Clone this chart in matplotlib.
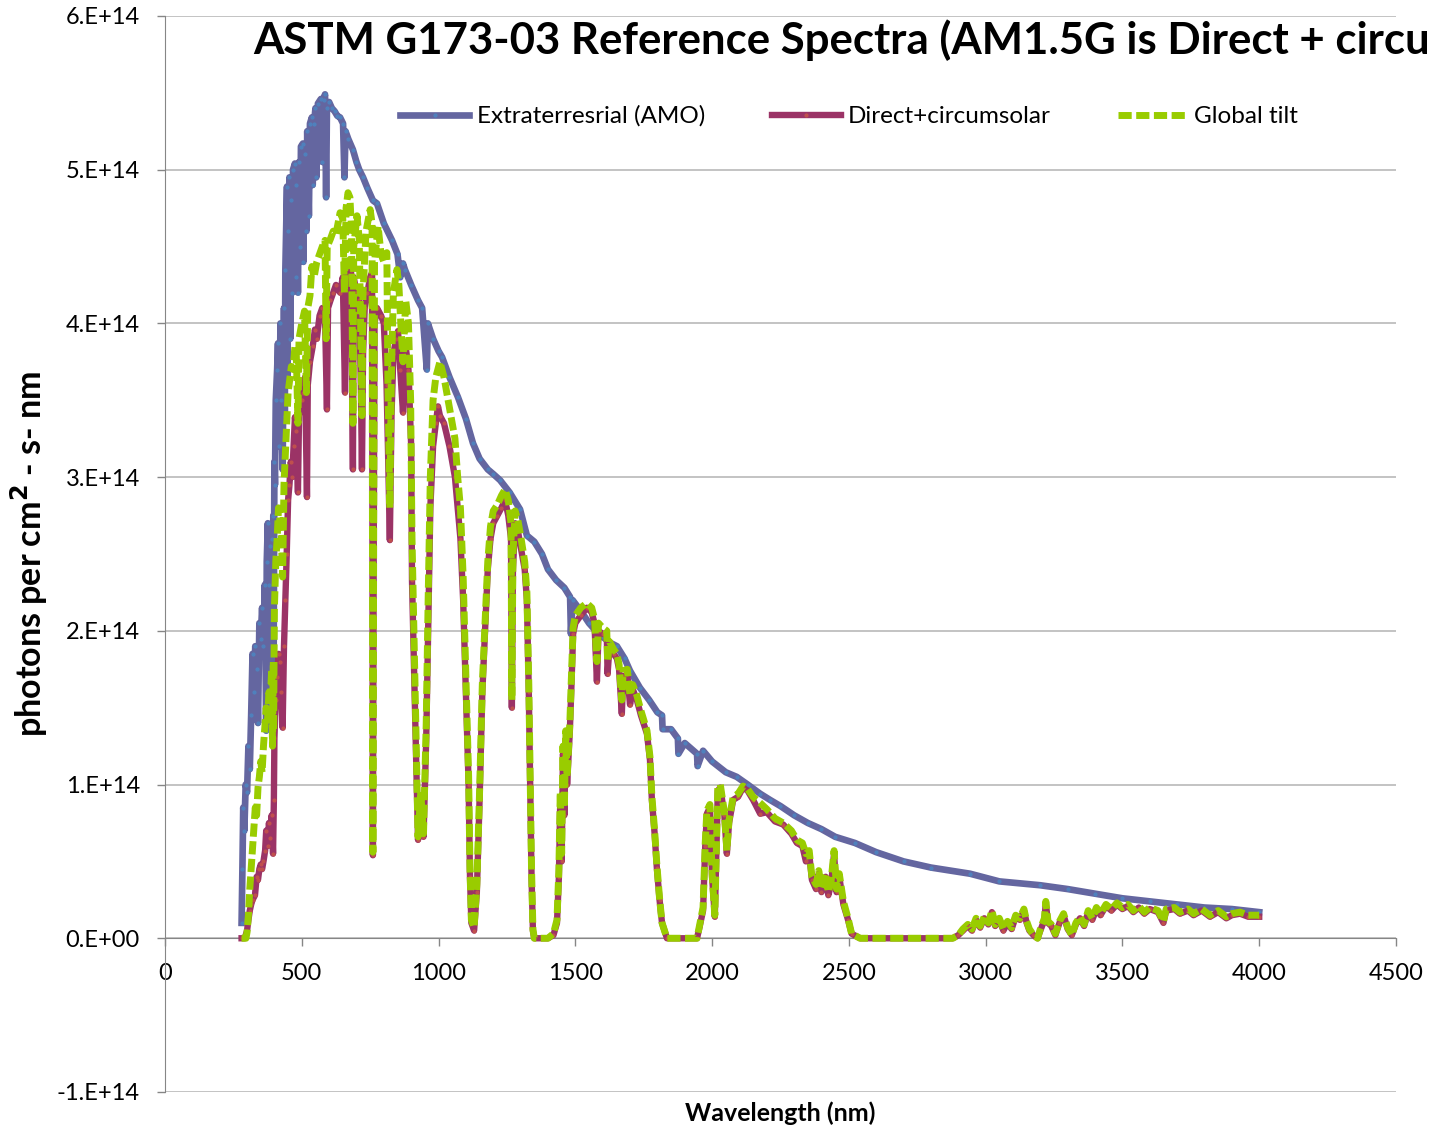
import matplotlib
matplotlib.use("Agg")
import matplotlib.pyplot as plt
from matplotlib.ticker import FixedLocator, FixedFormatter

plt.rcParams['font.family'] = ['Lato', 'DejaVu Sans']

# values, in units of 1e14 photons per cm2-s-nm
UNIT = 1e14

am0_wl = [280, 283, 286, 290, 295, 300, 305, 310, 315, 320, 325, 330, 335, 340, 345, 350,
          355, 360, 365, 370, 372, 376, 380, 385, 390, 393, 396, 397, 400, 402, 405, 410,
          413, 418, 422, 425, 430, 435, 438, 440, 446, 448, 450, 455, 458, 462, 466, 468,
          475, 478, 480, 486, 490, 494, 497, 504, 506, 510, 517, 520, 526, 530, 537, 540,
          545, 550, 553, 559, 570, 575, 580, 585, 589, 592, 600, 610, 620, 630, 640, 651,
          656, 660, 670, 687, 700, 710, 724, 740, 760, 775, 800, 830, 850, 860, 870, 877,
          900, 925, 940, 957, 961, 980, 1000, 1013, 1040, 1071, 1100, 1126, 1150, 1180,
          1200, 1225, 1260, 1298, 1323, 1350, 1378, 1400, 1430, 1460, 1481, 1484, 1490,
          1520, 1550, 1580, 1600, 1630, 1652, 1680, 1700, 1736, 1770, 1800, 1817, 1819,
          1850, 1875, 1877, 1900, 1945, 1947, 1967, 2000, 2050, 2090, 2130, 2176, 2212,
          2250, 2300, 2350, 2400, 2450, 2522, 2600, 2700, 2800, 2943, 3050, 3199, 3300,
          3400, 3500, 3600, 3700, 3800, 3900, 4000]
am0_val = [0.10, 0.45, 0.85, 0.70, 1.00, 0.95, 1.25, 1.10, 1.45, 1.85, 1.60, 1.90, 1.75, 1.40,
           2.05, 1.95, 2.15, 1.90, 2.30, 1.35, 2.45, 2.70, 2.30, 2.55, 2.60, 1.60, 2.75, 1.70,
           3.10, 2.95, 3.50, 3.70, 3.87, 3.20, 4.00, 3.50, 3.05, 4.10, 3.40, 4.35, 4.89, 3.60,
           4.60, 4.95, 3.90, 4.80, 4.20, 5.00, 5.04, 4.30, 4.90, 4.20, 5.05, 4.50, 5.15, 5.17,
           4.40, 5.10, 4.60, 5.25, 4.70, 5.30, 5.34, 4.90, 5.30, 5.40, 4.95, 5.43, 5.46, 5.05,
           5.45, 5.49, 4.82, 5.40, 5.44, 5.40, 5.38, 5.35, 5.34, 5.30, 4.95, 5.25, 5.20, 5.13,
           5.05, 5.00, 4.95, 4.88, 4.80, 4.78, 4.65, 4.54, 4.45, 4.30, 4.39, 4.35, 4.25, 4.15,
           4.10, 3.70, 4.00, 3.90, 3.82, 3.78, 3.65, 3.52, 3.38, 3.22, 3.12, 3.05, 3.02, 2.98,
           2.90, 2.79, 2.62, 2.58, 2.50, 2.40, 2.33, 2.28, 2.22, 1.98, 2.20, 2.13, 2.05, 1.99,
           1.96, 1.92, 1.90, 1.82, 1.74, 1.63, 1.55, 1.47, 1.45, 1.36, 1.36, 1.30, 1.20, 1.27,
           1.20, 1.12, 1.22, 1.15, 1.08, 1.05, 1.00, 0.94, 0.90, 0.86, 0.80, 0.75, 0.71, 0.66,
           0.62, 0.56, 0.50, 0.46, 0.42, 0.37, 0.345, 0.32, 0.29, 0.26, 0.24, 0.22, 0.20,
           0.19, 0.17]

direct_wl = [280, 290, 295, 300, 305, 310, 315, 320, 329, 335, 340, 345, 350, 355, 360, 366,
             370, 375, 380, 385, 390, 395, 398, 400, 405, 410, 415, 420, 425, 430, 435, 440,
             445, 450, 455, 460, 465, 470, 475, 480, 486, 490, 500, 505, 512, 519, 522, 530,
             540, 548, 555, 565, 575, 585, 592, 596, 605, 615, 625, 640, 650, 658, 662, 672,
             680, 687, 690, 700, 710, 716, 720, 724, 730, 740, 750, 757, 760, 763, 766, 775,
             790, 800, 810, 815, 822, 828, 835, 845, 852, 860, 870, 880, 890, 900, 903, 910,
             918, 925, 935, 945, 955, 962, 970, 980, 990, 998, 1005, 1020, 1040, 1060, 1070,
             1080, 1090, 1100, 1110, 1115, 1120, 1130, 1140, 1150, 1160, 1170, 1180, 1190,
             1200, 1215, 1230, 1243, 1255, 1265, 1268, 1272, 1280, 1290, 1300, 1315, 1323,
             1330, 1335, 1340, 1345, 1350, 1400, 1420, 1433, 1440, 1445, 1450, 1455, 1460,
             1465, 1470, 1480, 1485, 1492, 1500, 1520, 1542, 1560, 1570, 1579, 1585, 1600,
             1615, 1618, 1625, 1640, 1652, 1660, 1670, 1675, 1690, 1700, 1710, 1725, 1740,
             1762, 1773, 1780, 1790, 1798, 1808, 1817, 1835, 1945, 1955, 1967, 1975, 1981,
             1992, 2000, 2010, 2016, 2021, 2030, 2045, 2054, 2062, 2077, 2095, 2113, 2130,
             2150, 2176, 2200, 2230, 2260, 2290, 2310, 2330, 2343, 2355, 2365, 2380, 2390,
             2400, 2415, 2425, 2435, 2446, 2455, 2465, 2480, 2497, 2510, 2541, 2880, 2900,
             2917, 2935, 2950, 2965, 2980, 2995, 3010, 3023, 3035, 3050, 3065, 3080, 3095,
             3110, 3125, 3140, 3150, 3160, 3175, 3190, 3200, 3215, 3220, 3228, 3240, 3255,
             3270, 3285, 3300, 3315, 3330, 3345, 3360, 3375, 3390, 3405, 3420, 3440, 3460,
             3480, 3500, 3520, 3540, 3560, 3580, 3600, 3630, 3650, 3660, 3690, 3710, 3740,
             3760, 3790, 3820, 3850, 3880, 3900, 3930, 3960, 4000]
direct_val = [0.0, 0.0, 0.02, 0.05, 0.12, 0.18, 0.22, 0.25, 0.28, 0.40, 0.38, 0.45, 0.48, 0.45,
              0.50, 0.57, 0.70, 0.60, 0.75, 0.65, 0.80, 0.55, 0.90, 1.30, 1.55, 1.70, 1.85,
              1.80, 1.60, 1.37, 1.90, 2.20, 2.50, 2.85, 2.95, 3.10, 3.00, 3.20, 3.39, 3.30,
              2.90, 3.40, 3.50, 3.55, 3.65, 2.87, 3.60, 3.75, 3.85, 3.96, 3.90, 4.05, 4.10,
              4.05, 3.44, 4.10, 4.15, 4.20, 4.25, 4.20, 4.30, 3.55, 4.30, 4.41, 4.35, 3.05,
              4.30, 4.20, 4.15, 3.60, 3.05, 3.80, 4.10, 4.20, 4.30, 4.33, 0.54, 2.50, 4.00,
              4.10, 4.05, 4.00, 3.60, 3.20, 2.59, 3.40, 3.80, 3.90, 3.95, 3.70, 3.42, 3.85,
              3.70, 3.20, 2.33, 1.80, 1.20, 0.64, 0.90, 0.66, 1.30, 2.00, 2.80, 3.20, 3.35,
              3.46, 3.40, 3.35, 3.20, 3.00, 2.80, 2.60, 2.20, 1.60, 1.00, 0.40, 0.10, 0.05,
              0.30, 0.90, 1.60, 2.00, 2.40, 2.60, 2.70, 2.75, 2.80, 2.85, 2.75, 2.60, 1.50,
              2.40, 2.70, 2.65, 2.55, 2.40, 2.20, 1.60, 1.00, 0.40, 0.05, 0.0, 0.0, 0.02, 0.10,
              0.40, 0.90, 0.50, 1.20, 0.80, 1.30, 1.00, 1.35, 1.60, 1.98, 2.05, 2.10, 2.15,
              2.12, 2.05, 1.67, 2.00, 1.98, 1.98, 1.72, 1.90, 1.85, 1.82, 1.75, 1.46, 1.70,
              1.72, 1.52, 1.62, 1.55, 1.45, 1.33, 1.16, 0.90, 0.68, 0.46, 0.25, 0.10, 0.0, 0.0,
              0.08, 0.18, 0.60, 0.81, 0.85, 0.40, 0.14, 0.60, 0.96, 0.98, 0.80, 0.55, 0.75,
              0.90, 0.92, 0.98, 0.96, 0.90, 0.81, 0.82, 0.76, 0.74, 0.68, 0.62, 0.60, 0.50,
              0.55, 0.38, 0.32, 0.42, 0.30, 0.40, 0.28, 0.35, 0.55, 0.30, 0.40, 0.22, 0.12,
              0.03, 0.0, 0.0, 0.02, 0.05, 0.08, 0.05, 0.12, 0.07, 0.13, 0.09, 0.17, 0.08, 0.12,
              0.05, 0.10, 0.06, 0.14, 0.12, 0.18, 0.10, 0.05, 0.02, 0.0, 0.05, 0.12, 0.23,
              0.10, 0.08, 0.02, 0.10, 0.15, 0.06, 0.02, 0.09, 0.13, 0.08, 0.17, 0.12, 0.19,
              0.15, 0.21, 0.18, 0.22, 0.19, 0.21, 0.17, 0.20, 0.16, 0.19, 0.17, 0.10, 0.18,
              0.19, 0.16, 0.18, 0.15, 0.18, 0.14, 0.17, 0.13, 0.15, 0.16, 0.14, 0.14]

global_wl = [280, 296, 300, 305, 310, 315, 320, 325, 330, 335, 340, 345, 350, 355, 360, 365,
             370, 375, 380, 385, 390, 393, 396, 397, 400, 405, 410, 415, 420, 425, 430, 435,
             440, 446, 450, 455, 462, 468, 475, 480, 486, 490, 500, 510, 517, 522, 530, 537,
             545, 555, 565, 575, 585, 589, 593, 605, 615, 625, 640, 650, 656, 662, 669, 676,
             682, 687, 690, 702, 710, 716, 720, 724, 735, 750, 757, 760, 763, 766, 779, 790,
             800, 811, 815, 822, 828, 835, 848, 855, 862, 870, 880, 890, 898, 903, 910, 918,
             925, 935, 945, 955, 962, 970, 980, 990, 1005, 1020, 1040, 1060, 1070, 1080, 1090,
             1100, 1110, 1115, 1120, 1130, 1140, 1150, 1160, 1170, 1180, 1190, 1200, 1215,
             1230, 1243, 1255, 1265, 1268, 1272, 1280, 1290, 1300, 1315, 1323, 1330, 1335,
             1340, 1345, 1350, 1400, 1420, 1433, 1440, 1445, 1450, 1455, 1460, 1465, 1470,
             1480, 1485, 1492, 1500, 1520, 1542, 1560, 1570, 1579, 1585, 1600, 1615, 1618,
             1625, 1640, 1652, 1660, 1670, 1675, 1690, 1700, 1710, 1725, 1740, 1762, 1773,
             1780, 1790, 1798, 1808, 1817, 1835, 1945, 1955, 1967, 1975, 1981, 1992, 2000,
             2010, 2016, 2021, 2030, 2045, 2054, 2062, 2077, 2095, 2113, 2130, 2150, 2176,
             2200, 2230, 2260, 2290, 2310, 2330, 2343, 2355, 2365, 2380, 2390, 2400, 2415,
             2425, 2435, 2446, 2455, 2465, 2480, 2497, 2510, 2541, 2880, 2900, 2917, 2935,
             2950, 2965, 2980, 2995, 3010, 3023, 3035, 3050, 3065, 3080, 3095, 3110, 3125,
             3140, 3150, 3160, 3175, 3190, 3200, 3215, 3220, 3228, 3240, 3255, 3270, 3285,
             3300, 3315, 3330, 3345, 3360, 3375, 3390, 3405, 3420, 3440, 3460, 3480, 3500,
             3520, 3540, 3560, 3580, 3600, 3630, 3650, 3660, 3690, 3710, 3740, 3760, 3790,
             3820, 3850, 3880, 3900, 3930, 3960, 4000]
global_val = [0.0, 0.0, 0.04, 0.15, 0.32, 0.45, 0.58, 0.70, 0.85, 0.80, 0.98, 1.05, 1.15, 1.08,
              1.25, 1.38, 1.50, 1.42, 1.60, 1.55, 1.75, 1.25, 1.80, 1.35, 2.15, 2.45, 2.60,
              2.80, 2.72, 2.62, 2.35, 2.95, 3.15, 3.40, 3.55, 3.62, 3.72, 3.70, 3.85, 3.80,
              3.35, 3.90, 4.00, 4.08, 3.55, 4.10, 4.18, 4.37, 4.30, 4.40, 4.45, 4.50, 4.54,
              3.90, 4.50, 4.55, 4.60, 4.58, 4.72, 4.68, 4.20, 4.75, 4.85, 4.82, 4.60, 3.35,
              4.50, 4.70, 4.55, 3.90, 3.40, 4.20, 4.60, 4.74, 4.65, 0.56, 2.70, 4.40, 4.63,
              4.45, 4.40, 4.46, 3.60, 2.80, 3.70, 4.20, 4.35, 4.25, 4.00, 3.75, 4.15, 4.00,
              3.50, 2.60, 2.00, 1.30, 0.66, 0.95, 0.68, 1.40, 2.20, 3.00, 3.50, 3.65, 3.75,
              3.65, 3.45, 3.25, 3.00, 2.80, 2.35, 1.70, 1.05, 0.45, 0.12, 0.07, 0.35, 0.95,
              1.65, 2.05, 2.45, 2.68, 2.78, 2.82, 2.88, 2.92, 2.85, 2.70, 1.55, 2.50, 2.78,
              2.72, 2.62, 2.45, 2.25, 1.65, 1.05, 0.45, 0.06, 0.0, 0.0, 0.03, 0.12, 0.45, 0.95,
              0.55, 1.25, 0.85, 1.35, 1.05, 1.40, 1.65, 2.02, 2.10, 2.15, 2.18, 2.15, 2.08,
              1.80, 2.05, 2.02, 2.00, 1.80, 1.93, 1.88, 1.85, 1.78, 1.55, 1.74, 1.75, 1.58,
              1.65, 1.58, 1.48, 1.35, 1.18, 0.92, 0.70, 0.48, 0.26, 0.10, 0.0, 0.0, 0.09, 0.20,
              0.62, 0.83, 0.87, 0.42, 0.15, 0.62, 0.98, 1.00, 0.82, 0.57, 0.77, 0.92, 0.94,
              0.99, 0.97, 0.92, 0.88, 0.84, 0.78, 0.75, 0.70, 0.64, 0.62, 0.55, 0.57, 0.40,
              0.35, 0.44, 0.33, 0.42, 0.30, 0.37, 0.57, 0.32, 0.42, 0.24, 0.13, 0.03, 0.0, 0.0,
              0.02, 0.06, 0.09, 0.06, 0.13, 0.08, 0.14, 0.10, 0.18, 0.09, 0.13, 0.06, 0.11,
              0.07, 0.15, 0.13, 0.19, 0.11, 0.06, 0.02, 0.0, 0.06, 0.13, 0.24, 0.11, 0.09,
              0.03, 0.11, 0.16, 0.07, 0.02, 0.10, 0.14, 0.09, 0.18, 0.13, 0.20, 0.16, 0.22,
              0.19, 0.23, 0.20, 0.22, 0.18, 0.21, 0.17, 0.20, 0.18, 0.11, 0.19, 0.20, 0.17,
              0.19, 0.16, 0.19, 0.15, 0.18, 0.14, 0.16, 0.17, 0.15, 0.15]

series_names = ['Extraterresrial (AMO)', 'Direct+circumsolar', 'Global tilt']
xticks = [0, 500, 1000, 1500, 2000, 2500, 3000, 3500, 4000, 4500]
yticks = [-1, 0, 1, 2, 3, 4, 5, 6]
ytick_labels = ['-1.E+14', '0.E+00', '1.E+14', '2.E+14', '3.E+14', '4.E+14', '5.E+14', '6.E+14']

fig = plt.figure(figsize=(14.31, 11.31), dpi=100)
ax = fig.add_axes([0.1153, 0.0345, 0.8602, 0.9514])

ax.plot(am0_wl, [v * UNIT for v in am0_val], color='#6466A0', lw=4.8,
        marker='o', ms=2, mfc='#4F81BD', mec='#4F81BD', solid_joinstyle='round',
        label=series_names[0], zorder=3)
ax.plot(direct_wl, [v * UNIT for v in direct_val], color='#9B3366', lw=4.6,
        marker='o', ms=2, mfc='#C0504D', mec='#C0504D', solid_joinstyle='round',
        label=series_names[1], zorder=4)
ax.plot(global_wl, [v * UNIT for v in global_val], color='#99CC00', lw=5.0,
        ls=(0, (1.9, 0.65)), dash_capstyle='butt', solid_joinstyle='round',
        label=series_names[2], zorder=5)

ax.set_xlim(0, 4500)
ax.set_ylim(-1 * UNIT, 6 * UNIT)
ax.xaxis.set_major_locator(FixedLocator(xticks))
ax.yaxis.set_major_locator(FixedLocator([t * UNIT for t in yticks]))
ax.yaxis.set_major_formatter(FixedFormatter(ytick_labels))

ax.grid(axis='y', color='#B3B3B3', lw=1.1)
ax.set_axisbelow(True)
for s in ['top', 'right']:
    ax.spines[s].set_visible(False)
ax.spines['bottom'].set_position(('data', 0))
ax.spines['bottom'].set_color('#868686')
ax.spines['left'].set_color('#868686')
ax.spines['bottom'].set_zorder(2)
ax.tick_params(axis='both', colors='#868686', labelcolor='black', labelsize=17,
               length=6, width=1)
ax.tick_params(axis='x', pad=12)
ax.tick_params(axis='y', pad=12)

ax.set_ylabel('photons per cm$^{\\mathbf{2}}$ - s- nm', fontsize=24.5, fontweight='bold',
              labelpad=5)
ax.set_xlabel('Wavelength (nm)', fontsize=18, fontweight='bold')
ax.xaxis.set_label_coords(0.5, -0.009)

fig.text(253 / 1431, 1 - 40 / 1131,
         'ASTM G173-03 Reference Spectra (AM1.5G is Direct + circumsolar + diffuse)',
         fontsize=31.5, fontweight='bold', ha='left', va='center')

ax.legend(loc='center left', bbox_to_anchor=((400 - 165) / 1231, (938 - 113) / 1076 + 0.14),
          ncol=3, frameon=False, fontsize=17.5, handlelength=2.85, handletextpad=0.3,
          columnspacing=2.75, borderaxespad=0, borderpad=0)

fig.savefig('out.png', dpi=100)
